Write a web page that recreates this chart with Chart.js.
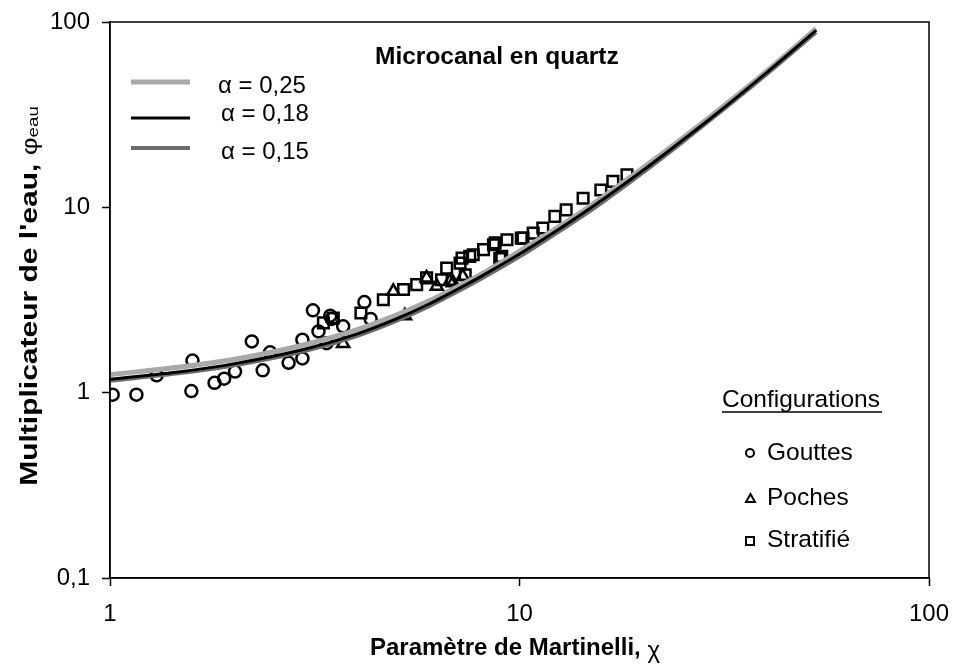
<!DOCTYPE html>
<html>
<head>
<meta charset="utf-8">
<script src="https://cdn.jsdelivr.net/npm/chart.js@4.4.0/dist/chart.umd.min.js"></script>
<style>
html, body { margin: 0; padding: 0; background: #fff; }
#wrap { width: 954px; height: 666px; }
</style>
</head>
<body>
<div id="wrap"><canvas id="myChart" width="954" height="666"></canvas></div>
<script>
// tick labels
const xTicks = [1, 10, 100];
const yTicks = [0.1, 1, 10, 100];

// model curves
const curveX   = [1, 1.5, 2, 3, 4, 5, 6, 7, 8, 10, 12, 15, 20, 25, 30, 40, 53];
const alpha025 = [1.25, 1.38, 1.51, 1.82, 2.18, 2.62, 3.12, 3.7, 4.32, 5.8, 7.45, 10.3, 16.3, 23.6, 32.3, 54, 92];
const alpha018 = [1.18, 1.30, 1.43, 1.72, 2.07, 2.5, 3.0, 3.58, 4.2, 5.6, 7.2, 10.0, 15.8, 23, 31.5, 53, 90];
const alpha015 = [1.16, 1.28, 1.40, 1.68, 2.02, 2.44, 2.92, 3.48, 4.08, 5.42, 7.0, 9.7, 15.4, 22.5, 31, 52, 88];

// measurements
const gouttesX = [1.015, 1.16, 1.30, 1.58, 1.59, 1.80, 1.90, 2.02, 2.22, 2.36, 2.46, 2.73, 2.95, 2.95, 3.13, 3.23, 3.38, 3.45, 3.48, 3.71, 4.18, 4.33];
const gouttesY = [0.975, 0.975, 1.24, 1.02, 1.49, 1.13, 1.19, 1.30, 1.89, 1.32, 1.65, 1.45, 1.53, 1.93, 2.78, 2.14, 1.85, 2.60, 2.50, 2.28, 3.08, 2.50];
const pochesX = [3.71, 4.92, 5.25, 5.93, 6.28, 6.76, 6.88, 7.27];
const pochesY = [1.84, 3.52, 2.6, 4.16, 3.75, 3.99, 3.92, 4.24];
const stratX = [3.32, 3.51, 4.10, 4.65, 5.21, 5.61, 5.93, 6.45, 6.64, 7.16, 7.24, 7.37, 7.56, 7.71, 8.17, 8.64, 8.72, 8.95, 9.05, 9.32, 10.1, 10.2, 10.8, 11.4, 12.2, 13.0, 14.3, 15.8, 16.9, 18.3];
const stratY = [2.38, 2.53, 2.69, 3.17, 3.60, 3.83, 4.16, 4.07, 4.70, 5.0, 5.32, 4.33, 5.44, 5.55, 5.91, 6.28, 6.43, 5.3, 5.44, 6.68, 6.82, 6.82, 7.26, 7.74, 8.94, 9.69, 11.2, 12.4, 13.8, 15.0];

const FONT = '"Liberation Sans", Arial, sans-serif';
const pts = (xs, ys) => xs.map((x, i) => ({ x: x, y: ys[i] }));
const comma = v => String(v).replace('.', ',');

// frame + annotations drawn on the canvas
const annotations = {
    id: 'annotations',
    afterDraw(chart) {
        const ctx = chart.ctx, a = chart.chartArea;
        ctx.save();
        ctx.strokeStyle = '#000';
        ctx.lineWidth = 1.5;
        ctx.strokeRect(a.left, a.top, a.right - a.left, a.bottom - a.top);

        ctx.fillStyle = '#000';
        ctx.textBaseline = 'middle';
        ctx.textAlign = 'left';
        ctx.font = 'bold 24.5px ' + FONT;
        ctx.fillText('Microcanal en quartz', 375, 57);

        // line legend
        const rows = [
            { y: 82, c: '#a9a9a9', w: 5, label: 'α = 0,25', ty: 86, tx: 218 },
            { y: 118, c: '#000', w: 3, label: 'α = 0,18', ty: 114, tx: 221 },
            { y: 148, c: '#6c6c6c', w: 4, label: 'α = 0,15', ty: 152, tx: 221 }
        ];
        ctx.font = '24px ' + FONT;
        rows.forEach(r => {
            ctx.strokeStyle = r.c;
            ctx.lineWidth = r.w;
            ctx.beginPath();
            ctx.moveTo(131, r.y);
            ctx.lineTo(190, r.y);
            ctx.stroke();
            ctx.fillText(r.label, r.tx, r.ty);
        });

        // marker legend
        ctx.font = '24.5px ' + FONT;
        ctx.fillText('Configurations', 722, 400);
        ctx.strokeStyle = '#000';
        ctx.lineWidth = 1.5;
        ctx.beginPath();
        ctx.moveTo(722, 412);
        ctx.lineTo(882, 412);
        ctx.stroke();

        ctx.lineWidth = 2;
        ctx.beginPath();
        ctx.arc(750, 453, 4, 0, Math.PI * 2);
        ctx.stroke();
        ctx.beginPath();
        ctx.moveTo(746, 502);
        ctx.lineTo(750.5, 494);
        ctx.lineTo(755, 502);
        ctx.closePath();
        ctx.stroke();
        ctx.strokeRect(746, 537, 8, 8);
        ctx.fillText('Gouttes', 767, 453);
        ctx.fillText('Poches', 767, 498);
        ctx.fillText('Stratifié', 767, 540);

        // axis titles
        ctx.font = 'bold 24px ' + FONT;
        const xt = 'Paramètre de Martinelli, ';
        const xw = ctx.measureText(xt).width;
        ctx.font = '24px ' + FONT;
        const cw = ctx.measureText('χ').width;
        let x0 = 515 - (xw + cw) / 2;
        ctx.font = 'bold 24px ' + FONT;
        ctx.fillText(xt, x0, 648);
        ctx.font = '24px ' + FONT;
        ctx.fillText('χ', x0 + xw, 651);

        // y title, stretched along its length like the original
        ctx.translate(30, 296);
        ctx.rotate(-Math.PI / 2);
        ctx.scale(1.25, 1);
        ctx.font = 'bold 24px ' + FONT;
        const yt = "Multiplicateur de l'eau, ";
        const yw = ctx.measureText(yt).width;
        ctx.font = '22px ' + FONT;
        const pw = ctx.measureText('φ').width;
        ctx.font = '15px ' + FONT;
        const ew = ctx.measureText('eau').width;
        let y0 = -(yw + pw + ew) / 2;
        ctx.font = 'bold 24px ' + FONT;
        ctx.fillText(yt, y0, 0);
        ctx.font = '22px ' + FONT;
        ctx.fillText('φ', y0 + yw, 1);
        ctx.font = '15px ' + FONT;
        ctx.fillText('eau', y0 + yw + pw, 4);
        ctx.restore();
    }
};

const ctx = document.getElementById('myChart').getContext('2d');
const chart = new Chart(ctx, {
    type: 'scatter',
    data: {
        datasets: [
            { label: 'α = 0,15', data: pts(curveX, alpha015), showLine: true, borderColor: '#6c6c6c', borderWidth: 4, pointRadius: 0, cubicInterpolationMode: 'monotone', order: 3 },
            { label: 'α = 0,25', data: pts(curveX, alpha025), showLine: true, borderColor: '#a9a9a9', borderWidth: 5, pointRadius: 0, cubicInterpolationMode: 'monotone', order: 2 },
            { label: 'α = 0,18', data: pts(curveX, alpha018), showLine: true, borderColor: '#000', borderWidth: 3, pointRadius: 0, cubicInterpolationMode: 'monotone', order: 1 },
            { label: 'Gouttes', data: pts(gouttesX, gouttesY), pointStyle: 'circle', pointRadius: 6, borderColor: '#000', borderWidth: 2.5, backgroundColor: 'rgba(0,0,0,0)', order: 10 },
            { label: 'Poches', data: pts(pochesX, pochesY), pointStyle: 'triangle', pointRadius: 7, borderColor: '#000', borderWidth: 2.5, backgroundColor: 'rgba(0,0,0,0)', order: 10 },
            { label: 'Stratifié', data: pts(stratX, stratY), pointStyle: 'rect', pointRadius: 7.5, borderColor: '#000', borderWidth: 2.5, backgroundColor: 'rgba(0,0,0,0)', order: 10 }
        ]
    },
    options: {
        responsive: false,
        devicePixelRatio: 1,
        animation: false,
        layout: { padding: { top: 22, right: 25, left: 0, bottom: 0 } },
        plugins: { legend: { display: false }, tooltip: { enabled: false } },
        scales: {
            x: {
                type: 'logarithmic',
                min: 1, max: 100,
                afterBuildTicks: s => { s.ticks = xTicks.map(v => ({ value: v })); },
                afterFit: s => { s.height = 88; s.paddingLeft = 0; s.paddingRight = 0; },
                ticks: { callback: v => comma(v), color: '#000', font: { size: 24, family: FONT }, padding: 14, maxRotation: 0 },
                grid: { drawOnChartArea: false, drawTicks: true, tickLength: 8, tickColor: '#000', tickWidth: 1.5 },
                border: { color: '#000', width: 1.5 }
            },
            y: {
                type: 'logarithmic',
                min: 0.1, max: 100,
                afterBuildTicks: s => { s.ticks = yTicks.map(v => ({ value: v })); },
                afterFit: s => { s.width = 110; s.paddingTop = 0; s.paddingBottom = 0; },
                ticks: { callback: v => comma(v), color: '#000', font: { size: 24, family: FONT }, padding: 12 },
                grid: { drawOnChartArea: false, drawTicks: true, tickLength: 8, tickColor: '#000', tickWidth: 1.5 },
                border: { color: '#000', width: 1.5 }
            }
        }
    },
    plugins: [annotations]
});
</script>
</body>
</html>
